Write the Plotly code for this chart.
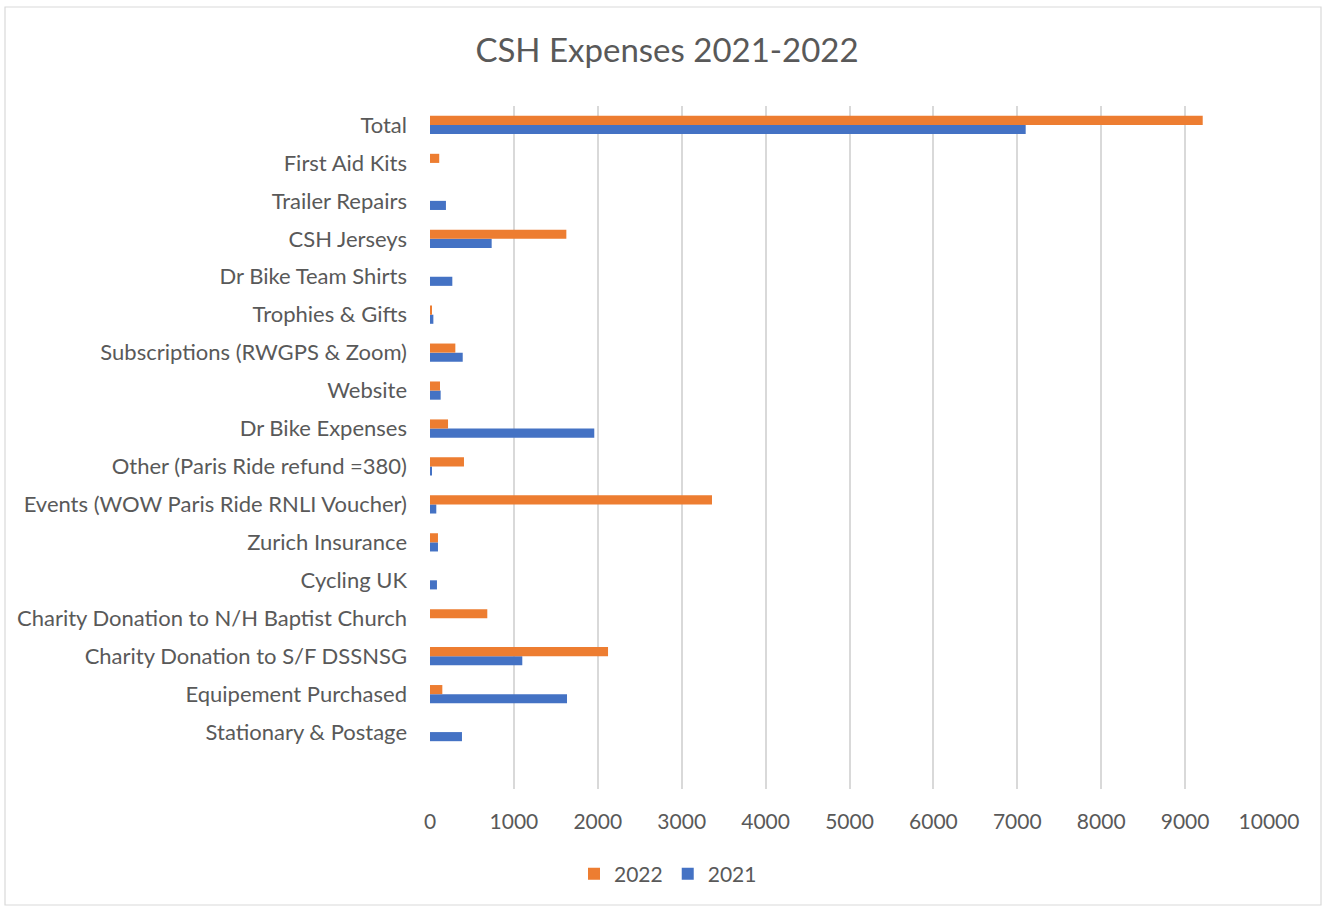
import plotly.graph_objects as go

categories = [
    "Stationary & Postage",
    "Equipement Purchased",
    "Charity Donation to S/F DSSNSG",
    "Charity Donation to N/H Baptist Church",
    "Cycling UK",
    "Zurich Insurance",
    "Events (WOW Paris Ride RNLI Voucher)",
    "Other (Paris Ride refund =380)",
    "Dr Bike Expenses",
    "Website",
    "Subscriptions (RWGPS & Zoom)",
    "Trophies & Gifts",
    "Dr Bike Team Shirts",
    "CSH Jerseys",
    "Trailer Repairs",
    "First Aid Kits",
    "Total",
]
values_2021 = [381, 1633, 1100, 0, 83, 95, 75, 20, 1958, 127, 390, 40, 266, 735, 190, 0, 7100]
values_2022 = [0, 147, 2122, 683, 0, 95, 3361, 405, 215, 119, 302, 20, 0, 1625, 0, 110, 9210]
x_ticks = [0, 1000, 2000, 3000, 4000, 5000, 6000, 7000, 8000, 9000, 10000]
x_tick_labels = [str(v) for v in x_ticks]

FONT = "Lato"
GREY = "#595959"

fig = go.Figure()
fig.add_trace(go.Bar(name="2021", y=categories, x=values_2021, orientation="h",
                     marker=dict(color="#4472C4", line=dict(width=0))))
fig.add_trace(go.Bar(name="2022", y=categories, x=values_2022, orientation="h",
                     marker=dict(color="#ED7D31", line=dict(width=0))))

L, R, T, B = 430, 61, 106, 119
W, H = 1330, 908
pw, ph = W - L - R, H - T - B

def px_x(p):
    return (p - L) / pw

def px_y(p):
    return (H - B - p) / ph

fig.update_layout(
    width=W, height=H,
    margin=dict(l=L, r=R, t=T, b=B),
    paper_bgcolor="white", plot_bgcolor="white",
    barmode="group", bargap=0.52, bargroupgap=0,
    font=dict(family=FONT, color=GREY, size=22),
    title=dict(text="CSH Expenses 2021-2022", x=px_x(667), xref="paper", xanchor="center",
               y=1 - 50 / H, yanchor="middle",
               font=dict(family=FONT, size=33, color=GREY)),
    showlegend=True,
    legend=dict(orientation="h", traceorder="reversed", x=px_x(668), xanchor="center",
                y=px_y(874), yanchor="middle", font=dict(size=21, color=GREY),
                itemwidth=30),
    xaxis=dict(range=[0, 10000], tickvals=x_ticks, ticktext=x_tick_labels,
               showgrid=True, gridcolor="#d9d9d9",
               gridwidth=1.5, zeroline=False, showline=False, ticks="",
               ticklabelstandoff=18, tickfont=dict(size=21, color=GREY)),
    yaxis=dict(type="category", categoryorder="array", categoryarray=categories,
               range=[-1.5, len(categories) - 0.5], showgrid=False, zeroline=False,
               showline=False, ticks="", ticklabelstandoff=22,
               tickfont=dict(size=22, color=GREY)),
    shapes=[dict(type="rect", xref="paper", yref="paper",
                 x0=px_x(5), x1=px_x(1321), y0=px_y(905), y1=px_y(7),
                 line=dict(color="#d9d9d9", width=1.2), fillcolor="rgba(0,0,0,0)",
                 layer="below")],
)

fig.write_html("out.html", config={"displayModeBar": False},
               post_script="document.body.style.margin='0';")
